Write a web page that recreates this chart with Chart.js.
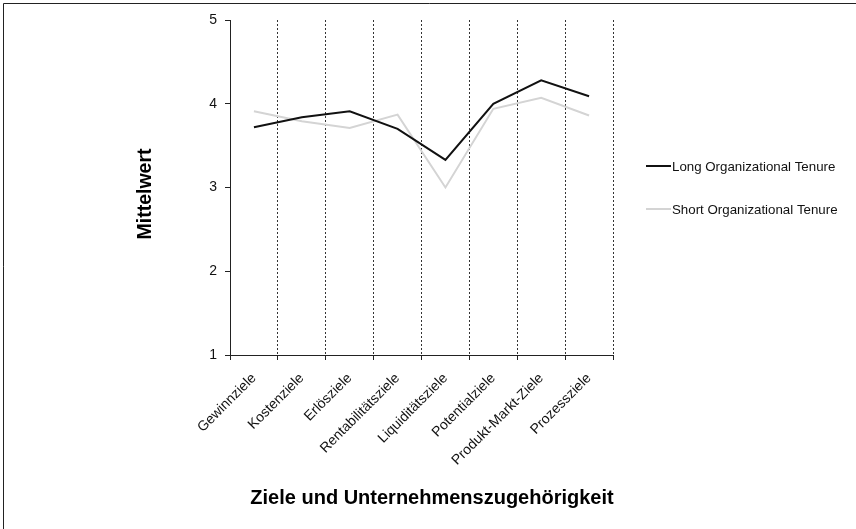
<!DOCTYPE html>
<html lang="de">
<head>
  <meta charset="UTF-8">
  <title>Ziele und Unternehmenszugehörigkeit</title>
  <script src="https://cdn.jsdelivr.net/npm/chart.js"></script>
  <style>
    html, body { margin: 0; padding: 0; background: #fff; }
    .wrap { width: 856px; height: 529px; position: relative; }
  </style>
</head>
<body>
  <div class="wrap"><canvas id="chart" width="856" height="529"></canvas></div>
  <script>
    // data
    const categories = ['Gewinnziele', 'Kostenziele', 'Erlösziele', 'Rentabilitätsziele',
      'Liquiditätsziele', 'Potentialziele', 'Produkt-Markt-Ziele', 'Prozessziele'];
    const longTenure = [3.72, 3.84, 3.91, 3.70, 3.33, 4.00, 4.28, 4.09];
    const shortTenure = [3.91, 3.79, 3.71, 3.87, 3.00, 3.94, 4.07, 3.86];
    const yTicks = [1, 2, 3, 4, 5];

    const FONT = "'Liberation Sans', Arial, sans-serif";
    Chart.defaults.font.family = FONT;

    // frame, axis titles and legend
    const extras = {
      id: 'extras',
      afterDraw(chart) {
        const ctx = chart.ctx;
        const area = chart.chartArea;
        ctx.save();
        ctx.strokeStyle = '#222';
        ctx.lineWidth = 1;
        ctx.beginPath();
        ctx.moveTo(3.5, 529);
        ctx.lineTo(3.5, 3.5);
        ctx.lineTo(856, 3.5);
        ctx.stroke();

        ctx.fillStyle = '#000';
        ctx.font = 'bold 19.5px ' + FONT;
        ctx.textAlign = 'center';
        ctx.textBaseline = 'middle';
        ctx.save();
        ctx.translate(146, 194);
        ctx.rotate(-Math.PI / 2);
        ctx.fillText('Mittelwert', 0, 0);
        ctx.restore();

        ctx.font = 'bold 20px ' + FONT;
        ctx.fillText('Ziele und Unternehmenszugehörigkeit', 432, 498);

        ctx.font = '13.3px ' + FONT;
        ctx.textAlign = 'left';
        chart.data.datasets.forEach((ds, i) => {
          const y = 166 + i * 43;
          ctx.strokeStyle = ds.borderColor;
          ctx.lineWidth = 2;
          ctx.beginPath();
          ctx.moveTo(646, y);
          ctx.lineTo(671, y);
          ctx.stroke();
          ctx.fillStyle = '#111';
          ctx.fillText(ds.label, 672, y + 1);
        });
        ctx.restore();
      }
    };

    new Chart(document.getElementById('chart'), {
      type: 'line',
      data: {
        labels: categories,
        datasets: [
          {
            label: 'Long Organizational Tenure',
            data: longTenure,
            borderColor: '#111',
            borderWidth: 2,
            pointRadius: 0,
            tension: 0
          },
          {
            label: 'Short Organizational Tenure',
            data: shortTenure,
            borderColor: '#d4d4d4',
            borderWidth: 2,
            pointRadius: 0,
            tension: 0
          }
        ]
      },
      options: {
        responsive: false,
        animation: false,
        layout: { padding: { left: 170, right: 243, top: 20, bottom: 34 } },
        plugins: {
          legend: { display: false },
          tooltip: { enabled: false }
        },
        scales: {
          x: {
            offset: true,
            afterFit: s => { s.height = 140; },
            grid: {
              offset: true,
              color: '#333',
              lineWidth: 1,
              drawTicks: true,
              tickLength: 5,
              tickColor: '#222',
              tickBorderDash: []
            },
            border: { display: true, color: '#222', width: 1, dash: [2, 2] },
            ticks: {
              minRotation: 45,
              maxRotation: 45,
              autoSkip: false,
              padding: 10,
              color: '#111',
              font: { size: 14 }
            }
          },
          y: {
            min: 1,
            max: 5,
            afterFit: s => { s.width = 60; },
            afterBuildTicks: s => { s.ticks = yTicks.map(v => ({ value: v })); },
            grid: {
              drawOnChartArea: false,
              drawTicks: true,
              tickLength: 5,
              tickColor: '#222',
              color: '#222'
            },
            border: { display: true, color: '#222', width: 1 },
            ticks: {
              padding: 8,
              color: '#111',
              font: { size: 14 }
            }
          }
        }
      },
      plugins: [extras]
    });
  </script>
</body>
</html>
